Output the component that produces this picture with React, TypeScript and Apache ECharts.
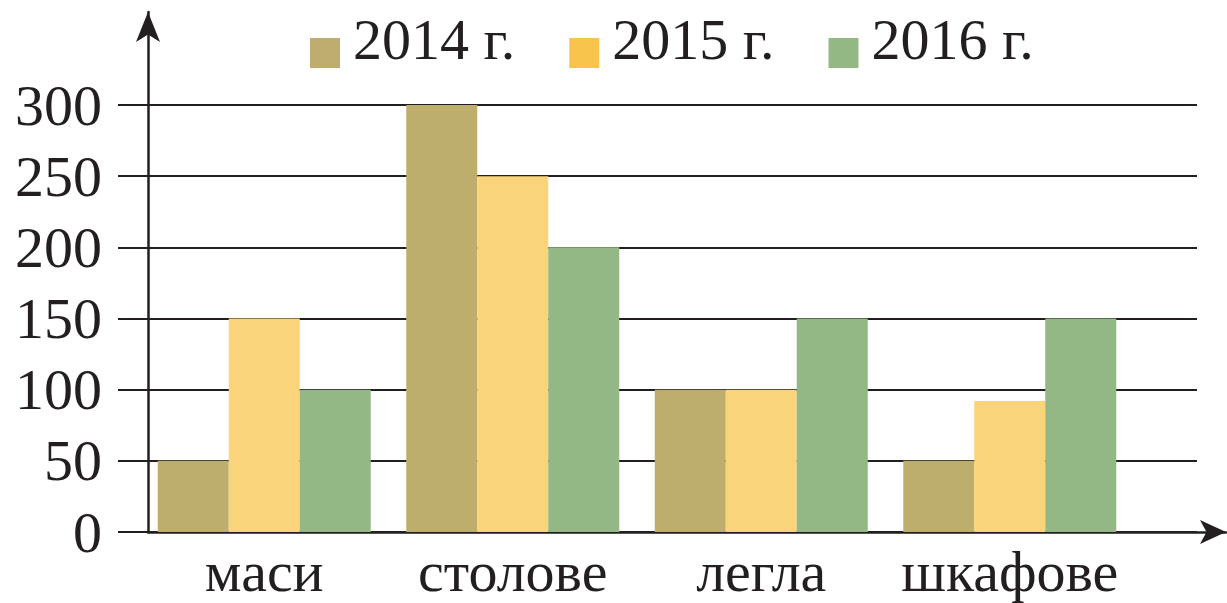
import React, { useEffect, useRef } from "react";
import * as echarts from "echarts";

const categories = ["маси", "столове", "легла", "шкафове"];
const seriesNames = ["2014 г.", "2015 г.", "2016 г."];
const values2014 = [50, 300, 100, 50];
const values2015 = [150, 250, 100, 92];
const values2016 = [100, 200, 150, 150];
const barColors = ["#bdae6e", "#f9d47b", "#94b885"];
const legendColors = ["#bead6e", "#f8c44b", "#93b883"];
const yMin = 0;
const yMax = 300;
const yInterval = 50;

const FONT = "'Liberation Serif', 'Times New Roman', serif";
const INK = "#231f20";

export default function App() {
  const ref = useRef<HTMLDivElement>(null);
  useEffect(() => {
    if (!ref.current) return;
    const chart = echarts.init(ref.current, undefined, { renderer: "svg" });
    const seriesData = [values2014, values2015, values2016];
    chart.setOption({
      animation: false,
      backgroundColor: "#ffffff",
      legend: {
        left: 310,
        top: 10,
        padding: 0,
        itemWidth: 30,
        itemHeight: 30,
        itemGap: 54,
        icon: "rect",
        formatter: (name: string) => `{t|${name}}`,
        textStyle: {
          fontFamily: FONT,
          fontSize: 58,
          color: INK,
          rich: {
            t: {
              fontFamily: FONT,
              fontSize: 58,
              color: INK,
              padding: [0, 0, 28, 8],
            },
          },
        },
        data: seriesNames.map((n, i) => ({ name: n, itemStyle: { color: legendColors[i] } })),
      },
      grid: [
        { left: 118, right: 30, top: 105, bottom: 71 },
        { left: 140, right: 93, top: 105, bottom: 71 },
        { left: 148, right: 1, top: 12, bottom: 71 },
      ],
      xAxis: [
        { gridIndex: 0, type: "value", show: false, min: 0, max: 1 },
        {
          gridIndex: 1,
          type: "category",
          data: categories,
          axisLine: { show: false },
          axisTick: { show: false },
          axisLabel: { interval: 0, fontFamily: FONT, fontSize: 58, color: INK, margin: 10 },
        },
        {
          gridIndex: 2,
          type: "value",
          min: 0,
          max: 1,
          axisLine: {
            show: true,
            symbol: ["none", "arrow"],
            symbolSize: [18, 26],
            lineStyle: { color: INK, width: 2.5 },
          },
          axisTick: { show: false },
          axisLabel: { show: false },
          splitLine: { show: false },
        },
      ],
      yAxis: [
        {
          gridIndex: 0,
          type: "value",
          min: yMin,
          max: yMax,
          interval: yInterval,
          axisLine: { show: false },
          axisTick: { show: false },
          axisLabel: { fontFamily: FONT, fontSize: 58, color: INK, margin: 16 },
          splitLine: { show: true, lineStyle: { color: INK, width: 2 } },
        },
        { gridIndex: 1, type: "value", min: yMin, max: yMax, interval: yInterval, show: false },
        {
          gridIndex: 2,
          type: "value",
          min: 0,
          max: 1,
          axisLine: {
            show: true,
            symbol: ["none", "arrow"],
            symbolSize: [18, 30],
            lineStyle: { color: INK, width: 2.5 },
          },
          axisTick: { show: false },
          axisLabel: { show: false },
          splitLine: { show: false },
        },
      ],
      series: seriesNames.map((name, i) => ({
        name,
        type: "bar",
        xAxisIndex: 1,
        yAxisIndex: 1,
        data: seriesData[i],
        barWidth: 71,
        barGap: "0%",
        itemStyle: { color: barColors[i] },
      })),
    });
    return () => chart.dispose();
  }, []);
  return (
    <div
      ref={ref}
      style={{ position: "fixed", left: 0, top: 0, width: 1227, height: 603, background: "#fff" }}
    />
  );
}
